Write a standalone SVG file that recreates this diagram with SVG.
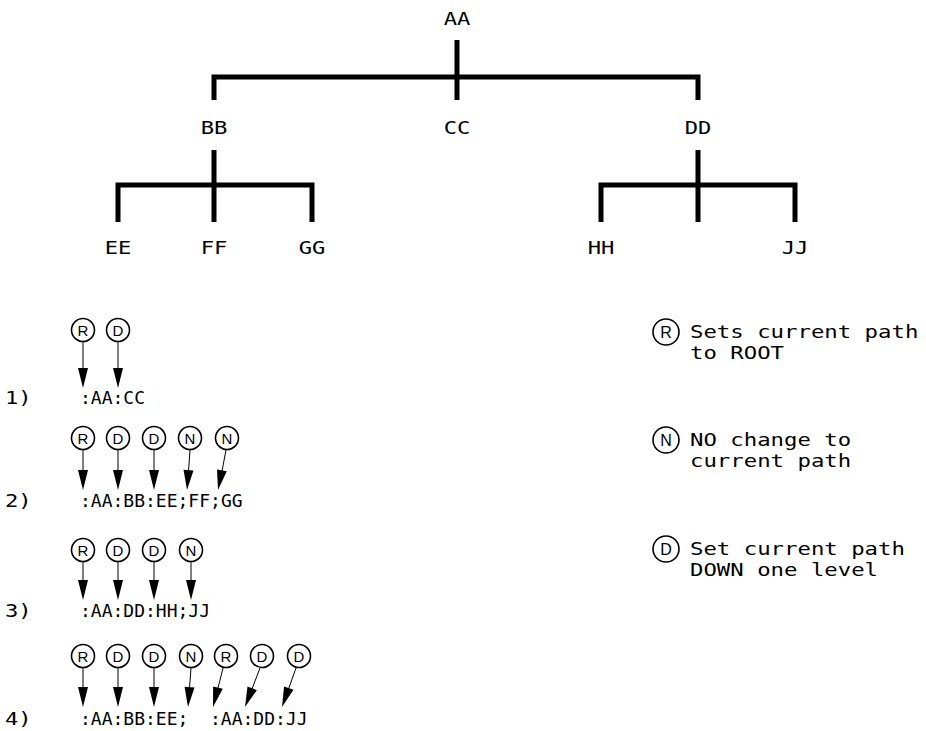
<svg xmlns="http://www.w3.org/2000/svg" width="926" height="731" viewBox="0 0 926 731">
<style>
.t{font-family:"DejaVu Sans Mono","Liberation Mono",monospace;font-size:18px;fill:#000;text-anchor:middle}
.r{font-family:"DejaVu Sans Mono","Liberation Mono",monospace;font-size:18px;fill:#000}
.n{font-family:"DejaVu Sans Mono","Liberation Mono",monospace;font-size:18px;fill:#000}
.c{font-family:"Liberation Sans",Arial,sans-serif;font-size:15px;fill:#000;text-anchor:middle}
.cl{font-family:"Liberation Sans",Arial,sans-serif;font-size:16px;fill:#000;text-anchor:middle}
.tree{stroke:#000;stroke-width:5;fill:none}
.ci{stroke:#000;stroke-width:1.6;fill:#fff}
.ar{stroke:#000;stroke-width:1;fill:none}
.ah{fill:#000;stroke:none}
</style>
<rect width="926" height="731" fill="#fff"/>
<g id="connectors">
<path class="tree" d="M457,40 V100 M214,100 V77 H698 V100"/>
<path class="tree" d="M214,150 V222 M118,222 V185 H312 V222"/>
<path class="tree" d="M698,150 V222 M601,222 V185 H795 V222"/>
</g>
<g id="node-AA"><text class="t" transform="translate(457,25) scale(1.23,1)">AA</text></g>
<g id="node-BB"><text class="t" transform="translate(214,134) scale(1.23,1)">BB</text></g>
<g id="node-CC"><text class="t" transform="translate(457,134) scale(1.23,1)">CC</text></g>
<g id="node-DD"><text class="t" transform="translate(698,134) scale(1.23,1)">DD</text></g>
<g id="node-EE"><text class="t" transform="translate(118,254) scale(1.23,1)">EE</text></g>
<g id="node-FF"><text class="t" transform="translate(214,254) scale(1.23,1)">FF</text></g>
<g id="node-GG"><text class="t" transform="translate(312,254) scale(1.23,1)">GG</text></g>
<g id="node-HH"><text class="t" transform="translate(601,254) scale(1.23,1)">HH</text></g>
<g id="node-JJ"><text class="t" transform="translate(795,254) scale(1.23,1)">JJ</text></g>

<g id="row1">
<text class="n" transform="translate(5,404) scale(1.23,1)">1)</text>
<text class="r" x="80" y="404">:AA:CC</text>
<circle class="ci" cx="83" cy="330" r="11.5"/><text class="c" x="83" y="335.5">R</text>
<circle class="ci" cx="118" cy="330" r="11.5"/><text class="c" x="118" y="335.5">D</text>
<line class="ar" x1="83" y1="342" x2="83" y2="370"/><path class="ah" d="M78,368 L88,368 L83,388 Z"/>
<line class="ar" x1="118" y1="342" x2="118" y2="370"/><path class="ah" d="M113,368 L123,368 L118,388 Z"/>
</g>
<g id="row2">
<text class="n" transform="translate(5,507) scale(1.23,1)">2)</text>
<text class="r" x="80" y="507">:AA:BB:EE;FF;GG</text>
<circle class="ci" cx="83" cy="438" r="11.5"/><text class="c" x="83" y="443.5">R</text>
<circle class="ci" cx="118" cy="438" r="11.5"/><text class="c" x="118" y="443.5">D</text>
<circle class="ci" cx="154" cy="438" r="11.5"/><text class="c" x="154" y="443.5">D</text>
<circle class="ci" cx="190" cy="438" r="11.5"/><text class="c" x="190" y="443.5">N</text>
<circle class="ci" cx="227" cy="438" r="11.5"/><text class="c" x="227" y="443.5">N</text>
<line class="ar" x1="83" y1="450" x2="83" y2="472"/><path class="ah" d="M78,470 L88,470 L83,490 Z"/>
<line class="ar" x1="118" y1="450" x2="118" y2="472"/><path class="ah" d="M113,470 L123,470 L118,490 Z"/>
<line class="ar" x1="154" y1="450" x2="154" y2="472"/><path class="ah" d="M149,470 L159,470 L154,490 Z"/>
<line class="ar" x1="190" y1="450" x2="188.5" y2="471"/><path class="ah" d="M183.51,469.69 L193.49,470.43 L187,490 Z"/>
<line class="ar" x1="226" y1="450" x2="222" y2="471"/><path class="ah" d="M217.02,469.41 L226.82,471.37 L218,490 Z"/>
</g>
<g id="row3">
<text class="n" transform="translate(5,617) scale(1.23,1)">3)</text>
<text class="r" x="80" y="617">:AA:DD:HH;JJ</text>
<circle class="ci" cx="83" cy="550" r="11.5"/><text class="c" x="83" y="555.5">R</text>
<circle class="ci" cx="118" cy="550" r="11.5"/><text class="c" x="118" y="555.5">D</text>
<circle class="ci" cx="154" cy="550" r="11.5"/><text class="c" x="154" y="555.5">D</text>
<circle class="ci" cx="191" cy="550" r="11.5"/><text class="c" x="191" y="555.5">N</text>
<line class="ar" x1="83" y1="562" x2="83" y2="582"/><path class="ah" d="M78,580 L88,580 L83,600 Z"/>
<line class="ar" x1="118" y1="562" x2="118" y2="582"/><path class="ah" d="M113,580 L123,580 L118,600 Z"/>
<line class="ar" x1="154" y1="562" x2="154" y2="582"/><path class="ah" d="M149,580 L159,580 L154,600 Z"/>
<line class="ar" x1="191" y1="562" x2="191" y2="582"/><path class="ah" d="M186,580 L196,580 L191,600 Z"/>
</g>
<g id="row4">
<text class="n" transform="translate(5,725) scale(1.23,1)">4)</text>
<text class="r" x="80" y="725">:AA:BB:EE;</text>
<text class="r" x="210" y="725">:AA:DD:JJ</text>
<circle class="ci" cx="83" cy="656" r="11.5"/><text class="c" x="83" y="661.5">R</text>
<circle class="ci" cx="118" cy="656" r="11.5"/><text class="c" x="118" y="661.5">D</text>
<circle class="ci" cx="154" cy="656" r="11.5"/><text class="c" x="154" y="661.5">D</text>
<circle class="ci" cx="191" cy="656" r="11.5"/><text class="c" x="191" y="661.5">N</text>
<circle class="ci" cx="226" cy="656" r="11.5"/><text class="c" x="226" y="661.5">R</text>
<circle class="ci" cx="262" cy="656" r="11.5"/><text class="c" x="262" y="661.5">D</text>
<circle class="ci" cx="299" cy="656" r="11.5"/><text class="c" x="299" y="661.5">D</text>
<line class="ar" x1="83" y1="668" x2="83" y2="689"/><path class="ah" d="M78,687 L88,687 L83,707 Z"/>
<line class="ar" x1="118" y1="668" x2="118" y2="689"/><path class="ah" d="M113,687 L123,687 L118,707 Z"/>
<line class="ar" x1="154" y1="668" x2="154" y2="689"/><path class="ah" d="M149,687 L159,687 L154,707 Z"/>
<line class="ar" x1="191" y1="668" x2="189.5" y2="688"/><path class="ah" d="M184.55,686.68 L194.51,687.44 L188,707 Z"/>
<line class="ar" x1="223" y1="668" x2="218" y2="688"/><path class="ah" d="M213.13,686.39 L222.81,688.87 L213,707 Z"/>
<line class="ar" x1="260" y1="668" x2="252" y2="689"/><path class="ah" d="M247.51,686.53 L256.85,690.13 L245,707 Z"/>
<line class="ar" x1="296" y1="668" x2="288.5" y2="689"/><path class="ah" d="M284.05,686.49 L293.47,689.87 L282,707 Z"/>
</g>
<g id="legend">
<circle class="ci" cx="666" cy="332" r="13"/><text class="cl" x="666" y="338">R</text>
<text class="n" transform="translate(690,338) scale(1.24,1)">Sets current path</text>
<text class="n" transform="translate(690,359) scale(1.24,1)">to ROOT</text>
<circle class="ci" cx="666" cy="440" r="13"/><text class="cl" x="666" y="446">N</text>
<text class="n" transform="translate(690,446) scale(1.24,1)">NO change to</text>
<text class="n" transform="translate(690,467) scale(1.24,1)">current path</text>
<circle class="ci" cx="666" cy="549" r="13"/><text class="cl" x="666" y="555">D</text>
<text class="n" transform="translate(690,555) scale(1.24,1)">Set current path</text>
<text class="n" transform="translate(690,576) scale(1.24,1)">DOWN one level</text>
</g>
</svg>
